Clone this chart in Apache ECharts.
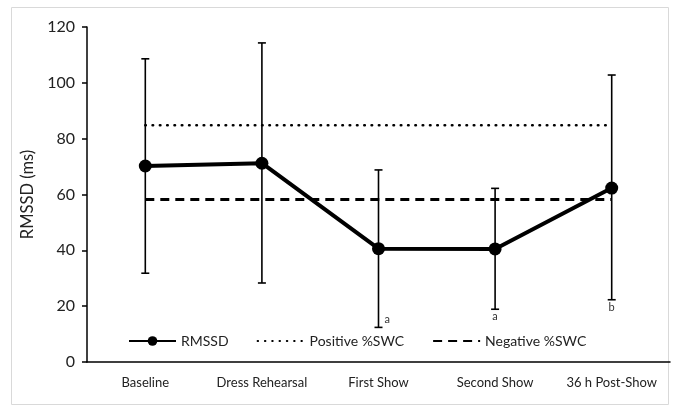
<!DOCTYPE html>
<html><head><meta charset="utf-8">
<script src="https://cdn.jsdelivr.net/npm/echarts@6/dist/echarts.min.js"></script>
<style>html,body{margin:0;padding:0;background:#fff}#c{width:679px;height:412px}</style>
</head><body><div id="c"></div>
<script>
const categories = ['Baseline', 'Dress Rehearsal', 'First Show', 'Second Show', '36 h Post-Show'];
const rmssd = [70.2, 71.2, 40.6, 40.5, 62.3];
const errUpper = [108.6, 114.3, 68.8, 62.2, 102.8];
const errLower = [31.8, 28.3, 12.4, 18.9, 22.3];
const sigLabels = ['', '', 'a', 'a', 'b'];
const positiveSWC = [84.8, 84.8, 84.8, 84.8, 84.8];
const negativeSWC = [58.2, 58.2, 58.2, 58.2, 58.2];
const yTicks = { min: 0, max: 120, interval: 20 };

const FONT = 'Lato';
const chart = echarts.init(document.getElementById('c'));
chart.setOption({
  animation: false,
  textStyle: { fontFamily: FONT },
  graphic: [{ type: 'rect', shape: { x: 11.5, y: 7.5, width: 657, height: 397 }, style: { fill: 'none', stroke: '#d9d9d9', lineWidth: 1 }, silent: true }],
  grid: { left: 87, top: 27, right: 9, bottom: 50 },
  legend: {
    left: 123, top: 329, itemWidth: 47, itemHeight: 12, itemGap: 28,
    textStyle: { fontSize: 14, color: '#222', fontFamily: FONT },
    data: [
      { name: 'RMSSD' },
      { name: 'Positive %SWC', itemStyle: { opacity: 0 } },
      { name: 'Negative %SWC', itemStyle: { opacity: 0 } }
    ]
  },
  xAxis: {
    type: 'category', data: categories,
    axisLine: { lineStyle: { color: '#000', width: 1.5 } },
    axisTick: { show: false },
    axisLabel: { color: '#222', fontSize: 13, margin: 14, interval: 0, fontFamily: FONT }
  },
  yAxis: {
    type: 'value', min: yTicks.min, max: yTicks.max, interval: yTicks.interval,
    name: 'RMSSD (ms)', nameLocation: 'middle', nameGap: 47, nameRotate: 90,
    nameTextStyle: { fontSize: 16.5, color: '#222', fontFamily: FONT },
    axisLine: { show: true, lineStyle: { color: '#000', width: 1.5 } },
    axisTick: { show: true, length: 5, lineStyle: { color: '#000', width: 1.5 } },
    axisLabel: { color: '#222', fontSize: 16, margin: 12, fontFamily: FONT },
    splitLine: { show: false }
  },
  series: [
    {
      name: 'Positive %SWC', type: 'line', data: positiveSWC, symbol: 'none',
      lineStyle: { color: '#000', width: 2.6, type: [0.5, 6.8], cap: 'round' }, itemStyle: { color: '#000' }, z: 2
    },
    {
      name: 'Negative %SWC', type: 'line', data: negativeSWC, symbol: 'none',
      lineStyle: { color: '#000', width: 3, type: [9, 6] }, itemStyle: { color: '#000' }, z: 2
    },
    {
      name: 'errors', type: 'custom', z: 3,
      data: categories.map((c, i) => [i, errLower[i], errUpper[i], sigLabels[i]]),
      encode: { x: 0, y: [1, 2] },
      renderItem: function (params, api) {
        const i = api.value(0);
        const lo = api.coord([i, api.value(1)]);
        const hi = api.coord([i, api.value(2)]);
        const hw = 4;
        const st = { stroke: '#000', lineWidth: 1.6 };
        const children = [
          { type: 'line', shape: { x1: hi[0], y1: hi[1], x2: lo[0], y2: lo[1] }, style: st },
          { type: 'line', shape: { x1: hi[0] - hw, y1: hi[1], x2: hi[0] + hw, y2: hi[1] }, style: st },
          { type: 'line', shape: { x1: lo[0] - hw, y1: lo[1], x2: lo[0] + hw, y2: lo[1] }, style: st }
        ];
        const lab = sigLabels[i];
        if (lab) {
          const first = i === 2;
          children.push({
            type: 'text',
            style: {
              text: lab, x: first ? lo[0] + 6 : lo[0], y: first ? lo[1] - 2 : lo[1] + 2,
              textAlign: first ? 'left' : 'center', textVerticalAlign: first ? 'bottom' : 'top',
              fontSize: 11, fill: '#333', fontFamily: FONT
            }
          });
        }
        return { type: 'group', children };
      }
    },
    {
      name: 'RMSSD', type: 'line', data: rmssd, symbol: 'circle', symbolSize: 13,
      lineStyle: { color: '#000', width: 4 }, itemStyle: { color: '#000' }, z: 5
    }
  ]
});
</script></body></html>
